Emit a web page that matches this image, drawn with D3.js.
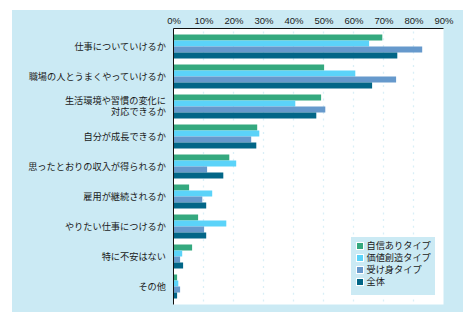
<!DOCTYPE html>
<html><head><meta charset="utf-8">
<script src="https://cdn.jsdelivr.net/npm/d3@7"></script>
<style>body{margin:0;background:#fff;}svg{display:block;}</style>
</head><body>
<script>
const categories = [
  ["仕事についていけるか"],
  ["職場の人とうまくやっていけるか"],
  ["生活環境や習慣の変化に","対応できるか"],
  ["自分が成長できるか"],
  ["思ったとおりの収入が得られるか"],
  ["雇用が継続されるか"],
  ["やりたい仕事につけるか"],
  ["特に不安はない"],
  ["その他"]
];
const seriesNames = ["自信ありタイプ","価値創造タイプ","受け身タイプ","全体"];
const jishin   = [69.6, 50.2, 49.2, 27.9, 18.6, 5.2, 8.2, 6.2, 1.2];
const kachi    = [65.2, 60.6, 40.6, 28.6, 20.9, 12.9, 17.6, 2.9, 1.6];
const ukemi    = [82.9, 74.2, 50.6, 25.9, 11.2, 9.6, 10.2, 2.2, 2.2];
const zentai   = [74.6, 66.2, 47.6, 27.6, 16.6, 10.9, 10.9, 3.2, 1.2];
const tickValues = [0,10,20,30,40,50,60,70,80,90];
const colors = ["#35a97f","#5bd3f9","#6699cc","#026687"];

const W = 474, H = 322;
const svg = d3.select("body").append("svg").attr("width", W).attr("height", H);
const jp = "'Noto Sans CJK JP', sans-serif";

// background panel
svg.append("rect").attr("x",12).attr("y",10).attr("width",451).attr("height",302).attr("fill","#cbeaf4");

const pL = 173.5, pR = 443.5, pT = 28.5, pB = 304.5;
const x = d3.scaleLinear().domain([0,90]).range([pL,pR]);
const y = d3.scaleBand().domain(d3.range(categories.length)).range([pT,pB]).paddingInner(0.2).paddingOuter(0.2);
const yi = d3.scaleBand().domain(d3.range(4)).range([0,y.bandwidth()]);

// plot area
svg.append("rect").attr("x",pL).attr("y",pT).attr("width",pR-pL).attr("height",pB-pT).attr("fill","#fff");

// grid
svg.append("g").selectAll("line").data(tickValues.filter(d=>d>0 && d<90)).join("line")
  .attr("x1",d=>x(d)).attr("x2",d=>x(d)).attr("y1",pT+3).attr("y2",pB)
  .attr("stroke","#d9eff7").attr("stroke-width",1.3).attr("stroke-dasharray","2,4.7");

// bars
const data = [jishin,kachi,ukemi,zentai];
const g = svg.append("g");
categories.forEach((c,i)=>{
  data.forEach((s,j)=>{
    g.append("rect").attr("x",x(0)).attr("y",y(i)+yi(j))
     .attr("width",x(s[i])-x(0)).attr("height",yi.bandwidth()).attr("fill",colors[j]);
  });
});

// border lines
svg.append("line").attr("x1",pL).attr("x2",pR).attr("y1",pT).attr("y2",pT).attr("stroke","#111").attr("stroke-width",1);
svg.append("line").attr("x1",pL).attr("x2",pL).attr("y1",pT).attr("y2",pB).attr("stroke","#111").attr("stroke-width",1);

// top axis
const axis = d3.axisTop(x).tickValues(tickValues).tickFormat(d=>d+"%").tickSize(0);
const ax = svg.append("g").attr("transform",`translate(0,${pT-2})`).call(axis);
ax.select(".domain").remove();
ax.selectAll("text").attr("font-family","'Liberation Sans', Arial, sans-serif").attr("font-size",9.5).attr("fill","#1a1a1a");

// category labels
categories.forEach((lines,i)=>{
  const cy = y(i)+y.bandwidth()/2;
  const lh = 11.5;
  lines.forEach((t,k)=>{
    svg.append("text").attr("x",166).attr("y",cy + (k-(lines.length-1)/2)*lh)
      .attr("dy","0.35em").attr("text-anchor","end")
      .attr("font-family",jp).attr("font-size",9.2).attr("fill","#1a1a1a").text(t);
  });
});

// legend
const lg = svg.append("g");
lg.append("rect").attr("x",351).attr("y",237).attr("width",84).attr("height",58).attr("fill","#cbeaf4");
seriesNames.forEach((n,j)=>{
  const cy = 246 + j*12;
  lg.append("rect").attr("x",356.5).attr("y",cy-3.5).attr("width",7).attr("height",7)
    .attr("fill",colors[j]).attr("stroke","#fff").attr("stroke-width",1);
  lg.append("text").attr("x",366.5).attr("y",cy).attr("dy","0.35em")
    .attr("font-family",jp).attr("font-size",9.2).attr("fill","#1a1a1a").text(n);
});
</script>
</body></html>
